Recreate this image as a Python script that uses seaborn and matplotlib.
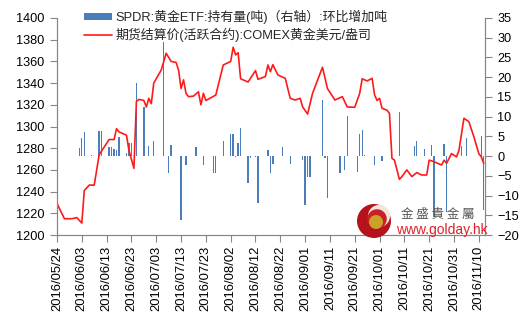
import numpy as np
import pandas as pd
import matplotlib
matplotlib.use("Agg")
import matplotlib.pyplot as plt
import matplotlib.dates as mdates
import seaborn as sns
from matplotlib.patches import Rectangle, Ellipse
from matplotlib.lines import Line2D

# COMEX gold settlement price (active contract), USD/oz
price_dates = [
    "2016-05-24", "2016-05-27", "2016-05-30", "2016-06-01", "2016-06-03", "2016-06-04",
    "2016-06-06", "2016-06-08", "2016-06-09", "2016-06-10", "2016-06-12", "2016-06-14",
    "2016-06-16", "2016-06-17", "2016-06-18", "2016-06-21", "2016-06-22", "2016-06-24",
    "2016-06-25", "2016-06-26", "2016-06-28", "2016-06-29", "2016-06-30", "2016-07-01",
    "2016-07-02", "2016-07-05", "2016-07-07", "2016-07-09", "2016-07-11", "2016-07-12",
    "2016-07-13", "2016-07-14", "2016-07-15", "2016-07-16", "2016-07-18", "2016-07-20",
    "2016-07-21", "2016-07-22", "2016-07-23", "2016-07-27", "2016-07-30", "2016-08-02",
    "2016-08-03", "2016-08-04", "2016-08-05", "2016-08-06", "2016-08-09", "2016-08-12",
    "2016-08-13", "2016-08-16", "2016-08-17", "2016-08-18", "2016-08-19", "2016-08-21",
    "2016-08-24", "2016-08-26", "2016-08-28", "2016-08-30", "2016-08-31", "2016-09-02",
    "2016-09-04", "2016-09-08", "2016-09-10", "2016-09-13", "2016-09-16", "2016-09-18",
    "2016-09-21", "2016-09-23", "2016-09-24", "2016-09-26", "2016-09-28", "2016-09-29",
    "2016-09-30", "2016-10-01", "2016-10-02", "2016-10-04", "2016-10-05", "2016-10-06",
    "2016-10-07", "2016-10-09", "2016-10-10", "2016-10-12", "2016-10-14", "2016-10-16",
    "2016-10-18", "2016-10-20", "2016-10-21", "2016-10-23", "2016-10-26", "2016-10-27",
    "2016-10-28", "2016-10-30", "2016-11-01", "2016-11-02", "2016-11-04", "2016-11-06",
    "2016-11-08", "2016-11-10", "2016-11-11", "2016-11-12",
]
price_values = [
    1229, 1215, 1215, 1216, 1211, 1241,
    1246, 1246, 1260, 1274, 1281, 1288,
    1288, 1298, 1295, 1292, 1278, 1261.5,
    1323, 1325, 1324, 1318, 1326, 1321,
    1340, 1352, 1367.5, 1360, 1359, 1352,
    1335, 1343, 1330.6, 1327.5, 1328, 1332,
    1320, 1330.6, 1324, 1329, 1356.7, 1360,
    1373, 1366, 1368, 1344, 1341, 1351.5,
    1343.5, 1346, 1356.7, 1350.5, 1357, 1347.5,
    1344.4, 1326, 1324.4, 1326, 1318, 1311.5,
    1330.6, 1354.6, 1335, 1324.4, 1327.5, 1318,
    1317.7, 1330.6, 1344, 1342, 1344.4, 1329,
    1324, 1326, 1316.8, 1315, 1312, 1270.7,
    1269, 1251.3, 1253.8, 1260, 1253.8, 1257.5,
    1255.3, 1255.3, 1269, 1267.5, 1264.5, 1269,
    1266, 1275, 1272, 1278, 1307.6, 1304.4,
    1290.6, 1275, 1272, 1266,
]

# SPDR gold ETF holdings, change vs previous day (tonnes)
etf_dates = [
    "2016-05-24", "2016-06-02", "2016-06-03", "2016-06-04", "2016-06-07", "2016-06-10",
    "2016-06-11", "2016-06-14", "2016-06-15", "2016-06-16", "2016-06-17", "2016-06-18",
    "2016-06-21", "2016-06-22", "2016-06-23", "2016-06-25", "2016-06-28", "2016-06-30",
    "2016-07-02", "2016-07-06", "2016-07-08", "2016-07-09", "2016-07-13", "2016-07-15",
    "2016-07-19", "2016-07-22", "2016-07-26", "2016-07-27", "2016-07-30", "2016-08-02",
    "2016-08-03", "2016-08-04", "2016-08-05", "2016-08-06", "2016-08-09", "2016-08-10",
    "2016-08-12", "2016-08-13", "2016-08-17", "2016-08-18", "2016-08-19", "2016-08-23",
    "2016-08-26", "2016-08-31", "2016-09-01", "2016-09-02", "2016-09-03", "2016-09-08",
    "2016-09-09", "2016-09-10", "2016-09-15", "2016-09-17", "2016-09-18", "2016-09-22",
    "2016-09-23", "2016-09-24", "2016-09-25", "2016-09-29", "2016-10-02", "2016-10-09",
    "2016-10-15", "2016-10-16", "2016-10-19", "2016-10-22", "2016-10-23", "2016-10-27",
    "2016-10-28", "2016-11-03", "2016-11-05", "2016-11-11", "2016-11-12",
]
etf_changes = [
    -3.8, 2.0, 4.6, 6.2, 0.2, 6.4,
    6.4, 2.4, 2.2, 1.7, 1.5, 4.9,
    0.7, 3.4, 3.4, 18.4, 12.5, 2.5,
    3.9, 29.0, -4.2, 2.8, -16.2, -2.3,
    2.2, -2.3, -4.4, -4.4, 3.9, 5.7,
    5.7, -0.3, 3.4, 7.0, -6.8, -0.6,
    -0.3, -12.0, 1.5, -4.4, -1.9, 2.4,
    -1.9, -1.0, -12.4, -5.2, -5.2, 14.2,
    -0.6, -10.7, -4.4, -3.4, 10.1, -4.0,
    5.7, 6.6, 0.2, -2.3, -1.2, 11.2,
    2.5, 3.9, 1.7, 2.8, -15.4, 3.0,
    -14.1, 2.5, 4.5, 5.1, -13.7,
]

tick_start = "2016-05-24"
tick_end = "2016-11-10"

legend_bar = "SPDR:黄金ETF:持有量(吨)（右轴）:环比增加吨"
legend_line = "期货结算价(活跃合约):COMEX黄金美元/盎司"

sns.set_theme(style="white")
plt.rcParams["font.family"] = ["Liberation Sans", "Noto Sans CJK SC", "DejaVu Sans"]

W, H = 528, 327
fig = plt.figure(figsize=(W / 100, H / 100), dpi=100)
fig.patch.set_facecolor("white")

ax = fig.add_axes([57 / W, 1 - 235 / H, 428 / W, 217 / H])
ax2 = ax.twinx()

bar_color = "#4A7EBB"
line_color = "#FF1A1A"
axis_gray = "#868686"

pdates = pd.to_datetime(price_dates)
edates = pd.to_datetime(etf_dates)

ax2.bar(edates, etf_changes, width=0.55, color=bar_color, linewidth=0)
sns.lineplot(x=pdates, y=price_values, ax=ax, color=line_color, linewidth=1.2)

# price axis drawn above the bar axis
ax.set_zorder(ax2.get_zorder() + 1)
ax.patch.set_visible(False)

x0 = pd.Timestamp(tick_start)
ax.set_xlim(x0, pd.Timestamp("2016-11-12") + pd.Timedelta(hours=12))
ax.set_ylim(1200, 1400)
ax.set_yticks(np.arange(1200, 1401, 20))
ax2.set_ylim(-20, 35)
ax2.set_yticks(np.arange(-20, 36, 5))

xt = pd.date_range(tick_start, tick_end, freq="10D")
ax.set_xticks(xt)
ax.xaxis.set_major_formatter(mdates.DateFormatter("%Y/%m/%d"))
ax.set_xlabel("")
ax.set_ylabel("")

for a in (ax, ax2):
    for s in a.spines.values():
        s.set_color(axis_gray)
        s.set_linewidth(0.8)
    a.spines["top"].set_visible(False)
    a.grid(False)

ax.tick_params(axis="x", which="both", bottom=True, length=5, width=0.8,
               color=axis_gray, labelsize=9.4, labelrotation=90, pad=3,
               labelcolor="black")
ax.tick_params(axis="y", left=True, length=5, width=0.8, color=axis_gray,
               labelsize=9.2, pad=4, labelcolor="black")
ax2.tick_params(axis="y", right=True, length=5, width=0.8, color=axis_gray,
                labelsize=9.2, pad=4, labelcolor="black")

# legend
handles = [Rectangle((0, 0), 1, 1, facecolor=bar_color, edgecolor="none"),
           Line2D([0], [0], color=line_color, lw=1.2)]
fig.legend(handles, [legend_bar, legend_line], loc="upper left",
           bbox_to_anchor=(84 / W, 1 - 10 / H), frameon=False,
           fontsize=9.3, handlelength=2.2, handleheight=0.55,
           handletextpad=0.2, labelspacing=0.3, borderpad=0,
           borderaxespad=0)

# watermark logo
cx, cy, r = 374, 221, 17
fig.add_artist(Ellipse((cx / W, 1 - cy / H), 2 * r / W, 2 * r / H,
                       facecolor="#B5121B", edgecolor="none", zorder=10))
fig.add_artist(Ellipse(((cx + 5) / W, 1 - (cy - 5) / H), 1.3 * r / W, 1.3 * r / H,
                       facecolor="#F2E6D8", edgecolor="none", zorder=10))
fig.add_artist(Ellipse(((cx + 3) / W, 1 - (cy - 2) / H), 1.15 * r / W, 1.15 * r / H,
                       facecolor="#C8202A", edgecolor="none", zorder=10))
fig.add_artist(Ellipse(((cx + 2) / W, 1 - (cy + 1) / H), 14 / W, 14 / H,
                       facecolor="#C9A227", edgecolor="none", zorder=11))
fig.text(438 / W, 1 - 214 / H, "金 盛 貴 金 屬", ha="center", va="center",
         fontsize=9, color="#555555", family=["Noto Sans CJK TC"], zorder=12)
fig.text(442 / W, 1 - 230 / H, "www.golday.hk", ha="center", va="center",
         fontsize=10, color="#E0202A", family=["Liberation Sans"], zorder=12)

fig.savefig("out.png", dpi=100, facecolor="white")
